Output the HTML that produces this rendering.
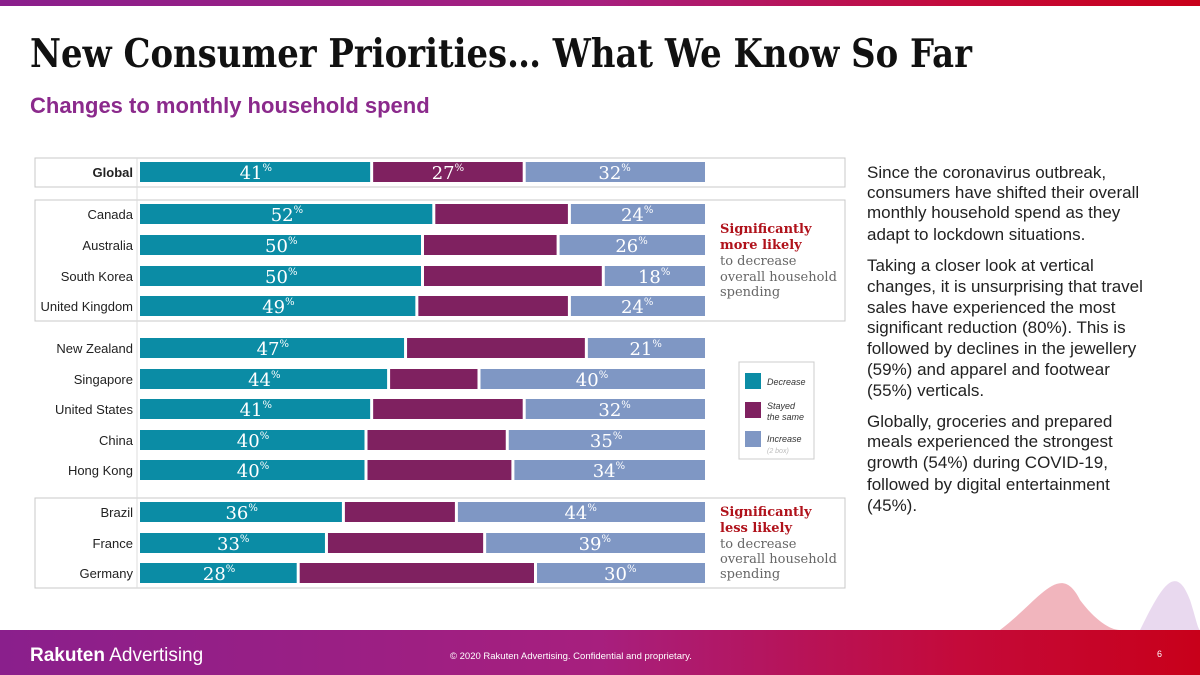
<!DOCTYPE html>
<html><head><meta charset="utf-8"><style>
body{margin:0;width:1200px;height:675px;overflow:hidden;background:#fff;font-family:"Liberation Sans",sans-serif}
svg{display:block}
</style></head><body>
<svg id="s" width="1200" height="675" xmlns="http://www.w3.org/2000/svg">
<defs>
<linearGradient id="g" x1="0" x2="1"><stop offset="0" stop-color="#8a1f8c"/><stop offset="0.5" stop-color="#a71f7e"/><stop offset="0.8" stop-color="#c40a3a"/><stop offset="1" stop-color="#c8001a"/></linearGradient>
</defs>
<rect x="0" y="0" width="1200" height="6" fill="url(#g)"/>
<text x="30" y="67" font-family="'DejaVu Serif','Liberation Serif',serif" font-weight="bold" font-size="39" fill="#111" textLength="942" lengthAdjust="spacingAndGlyphs">New Consumer Priorities… What We Know So Far</text>
<text x="30" y="113" font-size="22" font-weight="bold" fill="#8b2a8c">Changes to monthly household spend</text>
<g id="chart">
<rect x="35" y="158" width="810" height="29" fill="none" stroke="#c8c8c8"/>
<rect x="35" y="200" width="810" height="121" fill="none" stroke="#c8c8c8"/>
<rect x="35" y="498" width="810" height="90" fill="none" stroke="#c8c8c8"/>
<line x1="137" y1="158" x2="137" y2="588" stroke="#ddd"/>
</g>
<g font-family="'Roboto Slab','DejaVu Serif',serif">
<text x="720" y="233" font-size="13" font-weight="bold" fill="#b0121b">Significantly</text>
<text x="720" y="249" font-size="13" font-weight="bold" fill="#b0121b">more likely</text>
<text x="720" y="265" font-size="13" fill="#666">to decrease</text>
<text x="720" y="281" font-size="13" fill="#666">overall household</text>
<text x="720" y="296" font-size="13" fill="#666">spending</text>
<text x="720" y="516" font-size="13" font-weight="bold" fill="#b0121b">Significantly</text>
<text x="720" y="532" font-size="13" font-weight="bold" fill="#b0121b">less likely</text>
<text x="720" y="548" font-size="13" fill="#666">to decrease</text>
<text x="720" y="563" font-size="13" fill="#666">overall household</text>
<text x="720" y="578" font-size="13" fill="#666">spending</text>
</g>
<g>
<rect x="739" y="362" width="75" height="97" fill="#fff" stroke="#ccc"/>
<rect x="745" y="373" width="16" height="16" fill="#0b8ca5"/>
<text x="767" y="385" font-size="9" font-style="italic" fill="#333">Decrease</text>
<rect x="745" y="402" width="16" height="16" fill="#7f2160"/>
<text x="767" y="409" font-size="9" font-style="italic" fill="#333"><tspan x="767">Stayed</tspan><tspan x="767" dy="11">the same</tspan></text>
<rect x="745" y="431" width="16" height="16" fill="#7f97c4"/>
<text x="767" y="442" font-size="9" font-style="italic" fill="#333">Increase</text>
<text x="767" y="453" font-size="7" font-style="italic" fill="#bbb">(2 box)</text>
</g>
<g font-size="17" fill="#222">
<text x="867" y="178">Since the coronavirus outbreak,</text>
<text x="867" y="198">consumers have shifted their overall</text>
<text x="867" y="218">monthly household spend as they</text>
<text x="867" y="240">adapt to lockdown situations.</text>
<text x="867" y="271">Taking a closer look at vertical</text>
<text x="867" y="292">changes, it is unsurprising that travel</text>
<text x="867" y="313">sales have experienced the most</text>
<text x="867" y="333">significant reduction (80%). This is</text>
<text x="867" y="354">followed by declines in the jewellery</text>
<text x="867" y="375">(59%) and apparel and footwear</text>
<text x="867" y="396">(55%) verticals.</text>
<text x="867" y="427">Globally, groceries and prepared</text>
<text x="867" y="447">meals experienced the strongest</text>
<text x="867" y="468">growth (54%) during COVID-19,</text>
<text x="867" y="490">followed by digital entertainment</text>
<text x="867" y="511">(45%).</text>
</g>
<path d="M1000 630 C1040 600 1060 560 1080 600 C1095 620 1110 630 1120 630 Z" fill="#e36b7c" opacity="0.5"/>
<path d="M1140 630 C1160 590 1175 560 1190 600 C1195 615 1198 630 1200 630 Z" fill="#c9a0d6" opacity="0.4"/>
<rect x="0" y="630" width="1200" height="45" fill="url(#g)"/>
<text x="30" y="661" font-size="19" fill="#fff"><tspan font-weight="bold">Rakuten</tspan> Advertising</text>
<text x="450" y="659" font-size="9.5" fill="#fff">© 2020 Rakuten Advertising. Confidential and proprietary.</text>
<text x="1157" y="657" font-size="9" fill="#fff">6</text>
</svg>
<script>
const countries=["Global","Canada","Australia","South Korea","United Kingdom","New Zealand","Singapore","United States","China","Hong Kong","Brazil","France","Germany"];
const decrease=[41,52,50,50,49,47,44,41,40,40,36,33,28];
const increase=[32,24,26,18,24,21,40,32,35,34,44,39,30];
const showSame=[true,false,false,false,false,false,false,false,false,false,false,false,false];
const rowY=[172,214,245,276,306,348,379,409,440,470,512,543,573];
const NS="http://www.w3.org/2000/svg";
const chart=document.getElementById('chart');
const x0=140,scale=5.65;
const xs=v=>x0+v*scale;
function mk(t,a){const e=document.createElementNS(NS,t);for(const k in a)e.setAttribute(k,a[k]);chart.appendChild(e);return e;}
function label(cx,cy,v){
 const t=mk('text',{x:cx,y:cy+7,'text-anchor':'middle','font-family':"'DejaVu Serif','Liberation Serif',serif",'font-size':18,fill:'#fff'});
 
 
 t.textContent=v;
 const s=document.createElementNS(NS,'tspan');s.setAttribute('font-size',10);s.setAttribute('dy',-8);s.textContent='%';t.appendChild(s);
}
countries.forEach((c,i)=>{
 const y=rowY[i];
 const same=100-decrease[i]-increase[i];
 const n=mk('text',{x:133,y:y+5,'text-anchor':'end','font-size':13,fill:'#222','font-weight':i===0?'bold':'normal'});
 
 
 n.textContent=c;
 const segs=[[0,decrease[i],'#0b8ca5'],[decrease[i],decrease[i]+same,'#7f2160'],[decrease[i]+same,100,'#7f97c4']];
 segs.forEach((s,j)=>{
  const a=xs(s[0])+(j?1.5:0),b=xs(s[1])-(j<2?1.5:0);
  const r=mk('rect',{x:a,y:y-10,width:b-a,height:20,fill:s[2]});
  
  
 });
 label((xs(0)+xs(decrease[i]))/2,y,decrease[i]);
 if(showSame[i])label((xs(decrease[i])+xs(decrease[i]+same))/2,y,same);
 label((xs(decrease[i]+same)+xs(100))/2,y,increase[i]);
});
</script>
</body></html>
